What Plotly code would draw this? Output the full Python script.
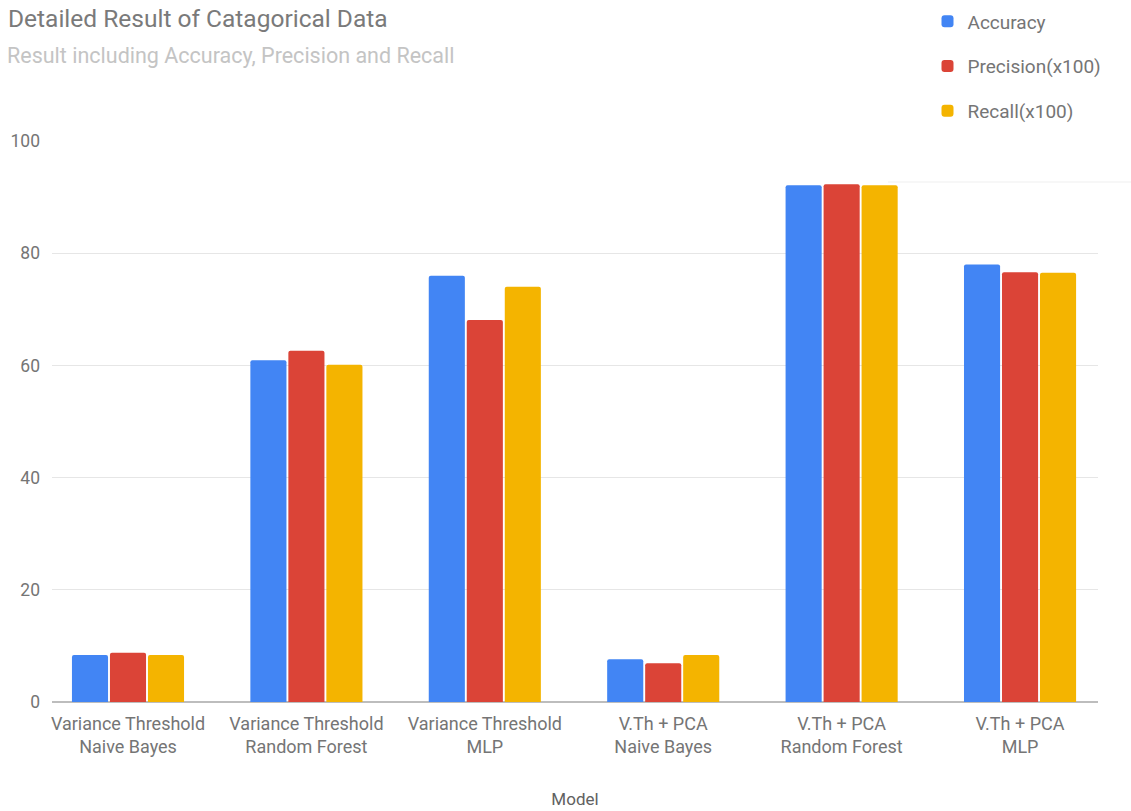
import plotly.graph_objects as go

# Model categories (two-line tick labels)
models = [
    "Variance Threshold<br>Naive Bayes",
    "Variance Threshold<br>Random Forest",
    "Variance Threshold<br>MLP",
    "V.Th + PCA<br>Naive Bayes",
    "V.Th + PCA<br>Random Forest",
    "V.Th + PCA<br>MLP",
]

accuracy = [8.4, 60.9, 76.0, 7.6, 92.1, 78.0]
precision_x100 = [8.8, 62.6, 68.1, 6.9, 92.3, 76.6]
recall_x100 = [8.4, 60.1, 74.0, 8.4, 92.1, 76.5]

series_names = ["Accuracy", "Precision(x100)", "Recall(x100)"]
series_colors = ["#4285F4", "#DB4437", "#F4B400"]

y_ticks = [0, 20, 40, 60, 80, 100]

FONT = "Roboto, Arial, sans-serif"
GREY = "#757575"

fig = go.Figure()
for name, vals, col in zip(series_names, [accuracy, precision_x100, recall_x100], series_colors):
    fig.add_trace(go.Bar(
        x=list(range(len(models))),
        y=vals,
        name=name,
        legendgroup=name,
        marker=dict(color=col, line=dict(width=0), cornerradius=2),
    ))

fig.update_layout(
    width=1131,
    height=811,
    margin=dict(l=52, r=33, t=141, b=109, autoexpand=False),
    paper_bgcolor="white",
    plot_bgcolor="white",
    font=dict(family=FONT, color=GREY, size=16),
    barmode="group",
    bargap=0.361,
    bargroupgap=0.05,
    title=dict(
        text="Detailed Result of Catagorical Data",
        x=8 / 1131, xanchor="left", xref="container",
        y=1 - 18 / 811, yanchor="middle", yref="container",
        font=dict(family=FONT, size=24.5, color="#7a7a7a"),
    ),
    showlegend=True,
    legend=dict(
        x=0.837, xanchor="left",
        y=1.247, yanchor="top",
        orientation="v",
        traceorder="grouped",
        tracegroupgap=17,
        bgcolor="rgba(255,255,255,0)",
        font=dict(family=FONT, size=19, color=GREY),
    ),
    xaxis=dict(
        range=[-0.426, 5.437],
        tickmode="array",
        tickvals=list(range(len(models))),
        ticktext=models,
        showgrid=False,
        ticks="",
        showline=False,
        zeroline=False,
        ticklabelstandoff=9,
        tickfont=dict(family=FONT, size=18, color=GREY),
        title=dict(text="Model", font=dict(family=FONT, size=17, color="#616161"), standoff=36),
        automargin=False,
    ),
    yaxis=dict(
        range=[0, 100],
        tickmode="array",
        tickvals=y_ticks,
        showgrid=True,
        gridcolor="#e6e6e6",
        gridwidth=1,
        zeroline=True,
        zerolinecolor="#bdbdbd",
        zerolinewidth=2,
        showline=False,
        ticks="",
        ticklabelstandoff=11,
        tickfont=dict(family=FONT, size=17.5, color=GREY),
        automargin=False,
    ),
    annotations=[
        dict(
            text="Result including Accuracy, Precision and Recall",
            xref="paper", yref="paper",
            x=-47 / 1046, xanchor="left",
            y=(702 - 56) / 561, yanchor="middle",
            showarrow=False,
            font=dict(family=FONT, size=21.5, color="#c4c4c4"),
        )
    ],
    shapes=[
        # white panel behind the legend, with a faint lower edge
        dict(type="rect", xref="paper", yref="paper",
             x0=(888 - 52) / 1046, x1=1.04, y0=(702 - 182) / 561, y1=1.26,
             fillcolor="white", line=dict(width=0), layer="above"),
        dict(type="line", xref="paper", yref="paper",
             x0=(888 - 52) / 1046, x1=1.04, y0=(702 - 182) / 561, y1=(702 - 182) / 561,
             line=dict(color="#efefef", width=1), layer="above"),
    ],
)

fig.write_html("out.html")
